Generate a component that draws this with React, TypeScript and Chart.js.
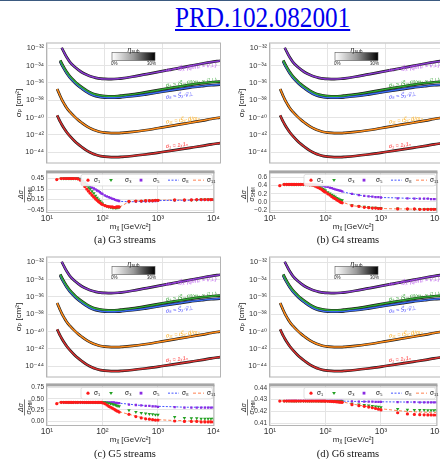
import React, { useEffect, useRef } from "react";
import { Chart, registerables } from "chart.js";

Chart.register(...registerables);

// ---------- main panel curves (log10 of sigma_p in cm^2) ----------
const CURVE_M = [15, 16, 17, 18, 20, 22, 25, 30, 35, 40, 50, 60, 70, 85, 100, 130, 170, 200, 300, 500, 700, 1000, 2000, 3000, 5000, 7000, 10000];
const SIG1_LOG = [-39.75, -40.15, -40.5, -40.8, -41.3, -41.7, -42.15, -42.7, -43.1, -43.4, -43.85, -44.12, -44.3, -44.45, -44.52, -44.57, -44.57, -44.54, -44.44, -44.27, -44.14, -43.98, -43.68, -43.5, -43.27, -43.1, -42.95];
const SIG11_LOG = [-36.7, -37.15, -37.55, -37.9, -38.45, -38.9, -39.35, -39.9, -40.3, -40.6, -41.05, -41.33, -41.5, -41.67, -41.74, -41.8, -41.8, -41.77, -41.66, -41.47, -41.32, -41.14, -40.8, -40.6, -40.35, -40.17, -40.0];
const SIG8_LOG = [null, null, -33.55, -33.9, -34.45, -34.9, -35.4, -35.95, -36.35, -36.65, -37.1, -37.38, -37.53, -37.65, -37.7, -37.72, -37.7, -37.66, -37.55, -37.35, -37.2, -37.03, -36.72, -36.55, -36.38, -36.28, -36.2];
const SIG3_LOG = [null, null, -33.4, -33.75, -34.3, -34.75, -35.25, -35.8, -36.2, -36.5, -36.93, -37.2, -37.35, -37.47, -37.52, -37.55, -37.52, -37.47, -37.33, -37.1, -36.93, -36.75, -36.42, -36.23, -36.03, -35.93, -35.85];
const SIG5_LOG = [null, null, null, -31.95, -32.55, -33.05, -33.6, -34.15, -34.5, -34.78, -35.1, -35.3, -35.42, -35.52, -35.55, -35.57, -35.53, -35.48, -35.3, -35.03, -34.85, -34.65, -34.27, -34.05, -33.77, -33.6, -33.45];

const MAIN_Y_TICK_EXP = [-32, -34, -36, -38, -40, -42, -44];
const X_TICKS = [10, 100, 1000, 10000];

// ---------- residual panels ----------
const RES_M = [15, 18, 20, 22, 24, 26, 28, 30, 33, 36, 40, 44, 48, 52, 56, 60, 65, 70, 75, 80, 85, 90, 95, 100, 110, 120, 130, 140, 150, 160, 170, 180, 190, 200, 300, 400, 500, 600, 700, 800, 900, 1000, 2000, 3000, 4000, 5000, 6000, 7000, 8000, 9000, 10000];

// (a) G3
const A_S1 = [0.42, 0.45, 0.45, 0.45, 0.45, 0.45, 0.45, 0.45, 0.45, 0.44,
  0.40, 0.31, 0.22, 0.15, 0.09, 0.03, -0.03, -0.08, -0.13, -0.17,
  -0.21, -0.24, -0.27, -0.29, -0.32, -0.34, -0.35, -0.36, -0.36, -0.37,
  -0.37, -0.36, -0.36, -0.36, -0.20, -0.19, -0.19, -0.18, -0.18, -0.18,
  -0.17, -0.17, -0.16, -0.16, -0.16, -0.15, -0.15, -0.15, -0.15, -0.15, -0.15];
const A_S3 = [null, 0.45, 0.45, 0.45, 0.45, 0.45, 0.45, 0.45, 0.45, 0.45,
  0.43, 0.38, 0.32, 0.26, 0.20, 0.15, 0.09, 0.03, -0.04, -0.10,
  -0.15, -0.19, -0.23, -0.26, -0.31, -0.34, -0.36, -0.37, -0.38, -0.38,
  -0.39, -0.38, -0.38, -0.37, -0.21, -0.19, -0.19, -0.18, -0.18, -0.18,
  -0.17, -0.17, -0.16, -0.16, -0.16, -0.16, -0.15, -0.15, -0.15, -0.15, -0.15];
const A_S5 = [null, null, 0.45, 0.45, 0.45, 0.45, 0.45, 0.45, 0.45, 0.45,
  0.44, 0.39, 0.34, 0.30, 0.26, 0.22, 0.19, 0.17, 0.14, 0.11,
  0.09, 0.06, 0.03, 0.01, -0.03, -0.06, -0.08, -0.10, -0.12, -0.14,
  -0.16, -0.17, -0.18, -0.19, -0.22, -0.21, -0.20, -0.20, -0.19, -0.19,
  -0.19, -0.18, -0.17, -0.17, -0.16, -0.16, -0.16, -0.16, -0.16, -0.16, -0.16];
const A_S8 = [null, 0.45, 0.45, 0.45, 0.45, 0.45, 0.45, 0.45, 0.45, 0.45,
  0.43, 0.38, 0.33, 0.28, 0.24, 0.20, 0.17, 0.14, 0.11, 0.08,
  0.06, 0.03, 0.01, -0.01, -0.05, -0.08, -0.10, -0.12, -0.14, -0.16,
  -0.17, -0.18, -0.19, -0.20, -0.21, -0.21, -0.20, -0.20, -0.19, -0.19,
  -0.19, -0.18, -0.17, -0.17, -0.17, -0.16, -0.16, -0.16, -0.16, -0.16, -0.16];
const A_S11 = [0.43, 0.45, 0.45, 0.45, 0.45, 0.45, 0.45, 0.45, 0.45, 0.45,
  0.42, 0.35, 0.27, 0.20, 0.14, 0.09, 0.03, -0.02, -0.08, -0.13,
  -0.18, -0.22, -0.25, -0.28, -0.32, -0.35, -0.36, -0.37, -0.38, -0.38,
  -0.38, -0.37, -0.37, -0.37, -0.21, -0.19, -0.19, -0.18, -0.18, -0.18,
  -0.17, -0.17, -0.16, -0.16, -0.16, -0.15, -0.15, -0.15, -0.15, -0.15, -0.15];
const A_TICKS = [0.45, 0.15, -0.15, -0.45];
const A_TICK_LABELS = ["0.45", "0.15", "\u22120.15", "\u22120.45"];

// (b) G4
const B_S1 = [0.40, 0.43, 0.43, 0.43, 0.43, 0.43, 0.43, 0.43, 0.43, 0.43,
  0.43, 0.43, 0.43, 0.42, 0.42, 0.41, 0.39, 0.37, 0.35, 0.33,
  0.31, 0.28, 0.26, 0.24, 0.20, 0.17, 0.13, 0.10, 0.08, 0.05,
  0.03, 0.01, -0.01, -0.02, -0.09, -0.11, -0.13, -0.14, -0.15, -0.15,
  -0.16, -0.16, -0.17, -0.17, -0.17, -0.18, -0.18, -0.18, -0.18, -0.18, -0.18];
const B_S3 = [null, 0.43, 0.43, 0.43, 0.43, 0.43, 0.43, 0.43, 0.43, 0.43,
  0.43, 0.43, 0.43, 0.43, 0.43, 0.42, 0.41, 0.39, 0.37, 0.36,
  0.34, 0.32, 0.30, 0.28, 0.24, 0.21, 0.18, 0.15, 0.13, 0.10,
  0.08, 0.06, 0.05, 0.04, -0.08, -0.10, -0.12, -0.13, -0.14, -0.14,
  -0.15, -0.15, -0.16, -0.17, -0.17, -0.17, -0.17, -0.17, -0.17, -0.17, -0.17];
const B_S5 = [null, null, 0.43, 0.43, 0.43, 0.43, 0.43, 0.43, 0.43, 0.43,
  0.43, 0.43, 0.43, 0.43, 0.43, 0.43, 0.43, 0.42, 0.42, 0.41,
  0.41, 0.40, 0.39, 0.38, 0.37, 0.35, 0.34, 0.32, 0.31, 0.30,
  0.29, 0.28, 0.27, 0.26, 0.20, 0.17, 0.15, 0.14, 0.13, 0.12,
  0.12, 0.11, 0.09, 0.09, 0.08, 0.08, 0.08, 0.08, 0.07, 0.07, 0.07];
const B_S8 = [null, 0.43, 0.43, 0.43, 0.43, 0.43, 0.43, 0.43, 0.43, 0.43,
  0.43, 0.43, 0.43, 0.43, 0.43, 0.43, 0.42, 0.42, 0.41, 0.41,
  0.40, 0.39, 0.38, 0.37, 0.36, 0.34, 0.33, 0.31, 0.30, 0.29,
  0.28, 0.27, 0.26, 0.25, 0.20, 0.17, 0.15, 0.14, 0.13, 0.12,
  0.12, 0.11, 0.10, 0.09, 0.09, 0.08, 0.08, 0.08, 0.08, 0.08, 0.08];
const B_S11 = [0.41, 0.43, 0.43, 0.43, 0.43, 0.43, 0.43, 0.43, 0.43, 0.43,
  0.43, 0.43, 0.43, 0.43, 0.42, 0.41, 0.40, 0.38, 0.36, 0.34,
  0.32, 0.30, 0.27, 0.25, 0.21, 0.18, 0.15, 0.12, 0.09, 0.07,
  0.05, 0.03, 0.01, 0.00, -0.09, -0.11, -0.13, -0.14, -0.15, -0.15,
  -0.16, -0.16, -0.17, -0.17, -0.18, -0.18, -0.18, -0.18, -0.18, -0.18, -0.18];
const B_TICKS = [0.6, 0.4, 0.2, 0.0, -0.2];
const B_TICK_LABELS = ["0.6", "0.4", "0.2", "0.0", "\u22120.2"];

// (c) G5
const C_S1 = [0.39, 0.42, 0.42, 0.42, 0.42, 0.42, 0.42, 0.42, 0.42, 0.42,
  0.42, 0.42, 0.42, 0.42, 0.42, 0.42, 0.42, 0.42, 0.42, 0.42,
  0.42, 0.42, 0.42, 0.41, 0.39, 0.36, 0.33, 0.31, 0.29, 0.27,
  0.25, 0.23, 0.22, 0.20, 0.15, 0.10, 0.07, 0.05, 0.04, 0.03,
  0.02, 0.02, 0.00, -0.01, -0.01, -0.01, -0.02, -0.02, -0.02, -0.02, -0.02];
const C_S3 = [null, 0.42, 0.42, 0.42, 0.42, 0.42, 0.42, 0.42, 0.42, 0.42,
  0.42, 0.42, 0.42, 0.42, 0.42, 0.42, 0.42, 0.42, 0.42, 0.42,
  0.42, 0.42, 0.42, 0.42, 0.42, 0.41, 0.40, 0.39, 0.38, 0.37,
  0.36, 0.35, 0.34, 0.33, 0.24, 0.20, 0.18, 0.17, 0.16, 0.15,
  0.14, 0.14, 0.09, 0.07, 0.06, 0.06, 0.05, 0.05, 0.05, 0.05, 0.05];
const C_S5 = [null, null, 0.42, 0.42, 0.42, 0.42, 0.42, 0.42, 0.42, 0.42,
  0.42, 0.42, 0.42, 0.42, 0.42, 0.42, 0.42, 0.42, 0.42, 0.42,
  0.42, 0.42, 0.42, 0.42, 0.42, 0.42, 0.42, 0.42, 0.42, 0.42,
  0.41, 0.41, 0.40, 0.40, 0.37, 0.36, 0.35, 0.34, 0.34, 0.33,
  0.33, 0.32, 0.31, 0.30, 0.30, 0.30, 0.30, 0.30, 0.30, 0.30, 0.30];
const C_S8 = [null, 0.42, 0.42, 0.42, 0.42, 0.42, 0.42, 0.42, 0.42, 0.42,
  0.42, 0.42, 0.42, 0.42, 0.42, 0.42, 0.42, 0.42, 0.42, 0.42,
  0.42, 0.42, 0.42, 0.42, 0.42, 0.42, 0.42, 0.42, 0.42, 0.42,
  0.41, 0.41, 0.40, 0.40, 0.38, 0.36, 0.35, 0.35, 0.34, 0.34,
  0.33, 0.33, 0.32, 0.31, 0.31, 0.31, 0.31, 0.31, 0.31, 0.31, 0.31];
const C_S11 = [0.40, 0.42, 0.42, 0.42, 0.42, 0.42, 0.42, 0.42, 0.42, 0.42,
  0.42, 0.42, 0.42, 0.42, 0.42, 0.42, 0.42, 0.42, 0.42, 0.42,
  0.42, 0.42, 0.42, 0.41, 0.40, 0.37, 0.35, 0.32, 0.30, 0.28,
  0.26, 0.24, 0.23, 0.21, 0.15, 0.11, 0.08, 0.06, 0.05, 0.04,
  0.03, 0.03, 0.01, 0.01, 0.00, 0.00, 0.00, 0.00, 0.00, 0.00, 0.00];
const C_TICKS = [0.75, 0.5, 0.25, 0.0];
const C_TICK_LABELS = ["0.75", "0.50", "0.25", "0.00"];

// (d) G6
const D_S1 = [0.4288, 0.4289, 0.4289, 0.4289, 0.4289, 0.4289, 0.4289, 0.4289, 0.4289, 0.4289,
  0.4289, 0.4289, 0.4289, 0.4289, 0.4289, 0.4289, 0.4289, 0.4289, 0.4289, 0.4289,
  0.4289, 0.4289, 0.4289, 0.4288, 0.4287, 0.4286, 0.4285, 0.4284, 0.4283, 0.4282,
  0.4281, 0.4280, 0.4279, 0.4278, 0.4258, 0.4250, 0.4244, 0.4238, 0.4232, 0.4226,
  0.4220, 0.4214, 0.4190, 0.4180, 0.4176, 0.4174, 0.4173, 0.4172, 0.4172, 0.4171, 0.4171];
const D_S3 = [null, 0.4289, 0.4289, 0.4289, 0.4289, 0.4289, 0.4289, 0.4289, 0.4289, 0.4289,
  0.4289, 0.4289, 0.4289, 0.4289, 0.4289, 0.4289, 0.4289, 0.4289, 0.4289, 0.4289,
  0.4289, 0.4289, 0.4289, 0.4289, 0.4288, 0.4288, 0.4287, 0.4287, 0.4286, 0.4286,
  0.4285, 0.4285, 0.4284, 0.4284, 0.4266, 0.4260, 0.4255, 0.4251, 0.4247, 0.4243,
  0.4240, 0.4237, 0.4222, 0.4216, 0.4214, 0.4213, 0.4213, 0.4212, 0.4212, 0.4212, 0.4212];
const D_S5 = [null, null, 0.4289, 0.4289, 0.4289, 0.4289, 0.4289, 0.4289, 0.4289, 0.4289,
  0.4289, 0.4289, 0.4289, 0.4289, 0.4289, 0.4289, 0.4289, 0.4289, 0.4289, 0.4289,
  0.4289, 0.4289, 0.4289, 0.4289, 0.4289, 0.4289, 0.4289, 0.4289, 0.4289, 0.4289,
  0.4289, 0.4289, 0.4289, 0.4289, 0.4285, 0.4284, 0.4284, 0.4283, 0.4283, 0.4282,
  0.4282, 0.4282, 0.4280, 0.4279, 0.4279, 0.4278, 0.4278, 0.4278, 0.4278, 0.4278, 0.4278];
const D_S8 = [null, 0.4289, 0.4289, 0.4289, 0.4289, 0.4289, 0.4289, 0.4289, 0.4289, 0.4289,
  0.4289, 0.4289, 0.4289, 0.4289, 0.4289, 0.4289, 0.4289, 0.4289, 0.4289, 0.4289,
  0.4289, 0.4289, 0.4289, 0.4289, 0.4289, 0.4289, 0.4289, 0.4289, 0.4289, 0.4289,
  0.4289, 0.4289, 0.4289, 0.4288, 0.4286, 0.4285, 0.4284, 0.4284, 0.4283, 0.4283,
  0.4282, 0.4282, 0.4281, 0.4280, 0.4280, 0.4279, 0.4279, 0.4279, 0.4279, 0.4279, 0.4279];
const D_S11 = [0.4289, 0.4289, 0.4289, 0.4289, 0.4289, 0.4289, 0.4289, 0.4289, 0.4289, 0.4289,
  0.4289, 0.4289, 0.4289, 0.4289, 0.4289, 0.4289, 0.4289, 0.4289, 0.4289, 0.4289,
  0.4289, 0.4289, 0.4289, 0.4289, 0.4288, 0.4288, 0.4287, 0.4287, 0.4286, 0.4285,
  0.4284, 0.4284, 0.4283, 0.4282, 0.4264, 0.4254, 0.4247, 0.4241, 0.4236, 0.4231,
  0.4227, 0.4224, 0.4208, 0.4201, 0.4198, 0.4196, 0.4195, 0.4194, 0.4194, 0.4193, 0.4193];
const D_TICKS = [0.44, 0.43, 0.42, 0.41];
const D_TICK_LABELS = ["0.44", "0.43", "0.42", "0.41"];

// ---------- styling ----------
const FONT = "'Liberation Sans', 'DejaVu Sans', sans-serif";
const GRID = "#e4e4e4";
const FRAME = "#b4b4b4";
const COL = { s1: "#ff1a1a", s3: "#22a022", s5: "#8a2be2", s8: "#4455ff", s11: "#ff8050" };

const SUP: Record<string, string> = { "0": "\u2070", "1": "\u00b9", "2": "\u00b2", "3": "\u00b3", "4": "\u2074", "5": "\u2075", "6": "\u2076", "7": "\u2077", "8": "\u2078", "9": "\u2079", "-": "\u207b" };
const sup = (n: number) => String(n).split("").map((c) => SUP[c] ?? c).join("");

function pts(xs: number[], ys: (number | null)[], f: (v: number) => number = (v) => v) {
  const out: { x: number; y: number }[] = [];
  for (let i = 0; i < xs.length; i++) {
    const y = ys[i];
    if (y !== null && y !== undefined) out.push({ x: xs[i], y: f(y) });
  }
  return out;
}

const framePlugin = {
  id: "frame",
  afterDatasetsDraw(chart: any) {
    const { ctx, chartArea: a } = chart;
    ctx.save();
    ctx.strokeStyle = FRAME;
    ctx.lineWidth = 1;
    ctx.strokeRect(a.left - 0.5, a.top - 0.5, a.right - a.left + 1, a.bottom - a.top + 1);
    ctx.restore();
  },
};

const CURVE_LABELS = [
  { m: 1150, e: -34.55, color: "#b44ee8", text: "\u03c3\u2085 = iS\u20d7\u1d6a\u00b7(q\u20d7/m\u2099 \u00d7 v\u20d7\u22a5)" },
  { m: 1150, e: -36.3, color: "#2ca02c", text: "\u03c3\u2083 = iS\u20d7\u2099\u00b7(q\u20d7/m\u2099 \u00d7 v\u20d7\u22a5)" },
  { m: 1150, e: -37.65, color: "#4a4aff", text: "\u03c3\u2088 = S\u20d7\u1d6a\u00b7v\u20d7\u22a5" },
  { m: 1150, e: -40.5, color: "#ffb020", text: "\u03c3\u2081\u2081 = iS\u20d7\u1d6a\u00b7q\u20d7/m\u2099" },
  { m: 1150, e: -43.35, color: "#ff2a2a", text: "\u03c3\u2081 = 1\u1d6a1\u2099" },
];

const mainDecor = {
  id: "mainDecor",
  afterDraw(chart: any) {
    const { ctx, chartArea: a, scales } = chart;
    ctx.save();
    // colour bar for eta_sub
    const x0 = a.left + 65, y0 = a.top + 9, w = 43, h = 8;
    const g = ctx.createLinearGradient(x0, 0, x0 + w, 0);
    g.addColorStop(0, "#ffffff");
    g.addColorStop(0.5, "#9a9a9a");
    g.addColorStop(1, "#000000");
    ctx.fillStyle = g;
    ctx.fillRect(x0, y0, w, h);
    ctx.strokeStyle = "#555";
    ctx.lineWidth = 0.6;
    ctx.strokeRect(x0, y0, w, h);
    ctx.fillStyle = "#222";
    ctx.textBaseline = "middle";
    ctx.font = `italic 7px ${FONT}`;
    const etaW = ctx.measureText("\u03b7").width;
    ctx.font = `5px ${FONT}`;
    const subW = ctx.measureText("sub").width;
    const sx = x0 + w / 2 - (etaW + subW) / 2;
    ctx.font = `italic 7px ${FONT}`;
    ctx.fillText("\u03b7", sx, y0 - 2);
    ctx.font = `5px ${FONT}`;
    ctx.fillText("sub", sx + etaW, y0 - 0.5);
    ctx.font = `4.5px ${FONT}`;
    ctx.textAlign = "left";
    ctx.fillText("0%", x0 - 1, y0 + h + 3.5);
    ctx.textAlign = "right";
    ctx.fillText("30%", x0 + w + 1, y0 + h + 3.5);
    // curve labels
    ctx.textAlign = "left";
    ctx.font = `italic 5.6px ${FONT}`;
    for (const l of CURVE_LABELS) {
      const px = scales.x.getPixelForValue(l.m);
      const py = scales.y.getPixelForValue(Math.pow(10, l.e));
      ctx.save();
      ctx.translate(px, py);
      ctx.rotate((-6 * Math.PI) / 180);
      ctx.fillStyle = l.color;
      ctx.fillText(l.text, 0, 0);
      ctx.restore();
    }
    ctx.restore();
  },
};

function drawMarker(ctx: CanvasRenderingContext2D, kind: string, x: number, y: number, color: string) {
  ctx.fillStyle = color;
  ctx.beginPath();
  if (kind === "circle") {
    ctx.arc(x, y, 1.6, 0, Math.PI * 2);
  } else if (kind === "tri") {
    ctx.moveTo(x - 1.9, y - 1.2);
    ctx.lineTo(x + 1.9, y - 1.2);
    ctx.lineTo(x, y + 1.9);
    ctx.closePath();
  } else {
    ctx.rect(x - 1.4, y - 1.4, 2.8, 2.8);
  }
  ctx.fill();
}

const resDecor = {
  id: "resDecor",
  afterDraw(chart: any) {
    const { ctx, chartArea: a } = chart;
    ctx.save();
    // band between the two panels
    ctx.fillStyle = "#a6a6a6";
    ctx.fillRect(a.left - 1, a.top - 2.5, a.right - a.left + 2, 3);
    // legend inside the axes
    const L = a.left, T = a.top;
    const bx = L + 34, by = T + 1.5, bw = a.right - bx - 1, bh = 11.5;
    ctx.fillStyle = "rgba(255,255,255,0.88)";
    ctx.strokeStyle = "#d4d4d4";
    ctx.lineWidth = 0.7;
    ctx.beginPath();
    (ctx as any).roundRect(bx, by, bw, bh, 2);
    ctx.fill();
    ctx.stroke();
    const cy = by + bh / 2;
    const ds = chart.data.datasets;
    ctx.font = `6.5px ${FONT}`;
    ctx.textBaseline = "middle";
    ctx.textAlign = "left";
    drawMarker(ctx, "circle", L + 41, cy, ds[0].borderColor);
    drawMarker(ctx, "tri", L + 64, cy, ds[1].borderColor);
    drawMarker(ctx, "rect", L + 94, cy, ds[2].borderColor);
    ctx.lineWidth = 1;
    ctx.strokeStyle = ds[3].borderColor;
    ctx.setLineDash([2, 1.5]);
    ctx.beginPath();
    ctx.moveTo(L + 121, cy);
    ctx.lineTo(L + 132, cy);
    ctx.stroke();
    ctx.strokeStyle = ds[4].borderColor;
    ctx.setLineDash([3, 2]);
    ctx.beginPath();
    ctx.moveTo(L + 146, cy);
    ctx.lineTo(L + 157, cy);
    ctx.stroke();
    ctx.setLineDash([]);
    ctx.fillStyle = "#222";
    ctx.fillText(ds[0].label, L + 47, cy);
    ctx.fillText(ds[1].label, L + 78, cy);
    ctx.fillText(ds[2].label, L + 106, cy);
    ctx.fillText(ds[3].label, L + 135, cy);
    ctx.fillText(ds[4].label, L + 160, cy);
    // y-axis title as a fraction
    ctx.translate(24.5, (a.top + a.bottom) / 2 + 2);
    ctx.rotate(-Math.PI / 2);
    ctx.fillStyle = "#222";
    ctx.textAlign = "center";
    ctx.textBaseline = "alphabetic";
    ctx.font = `italic 7px ${FONT}`;
    ctx.fillText("\u0394\u03c3", 0, -1.3);
    ctx.fillRect(-8, -0.3, 16, 0.6);
    ctx.font = `italic 7px ${FONT}`;
    const w1 = ctx.measureText("\u03c3").width;
    ctx.font = `4.5px ${FONT}`;
    const w2 = ctx.measureText("SHM").width;
    const sx = -(w1 + w2) / 2;
    ctx.textAlign = "left";
    ctx.textBaseline = "top";
    ctx.font = `italic 7px ${FONT}`;
    ctx.fillText("\u03c3", sx, 0.8);
    ctx.font = `4.5px ${FONT}`;
    ctx.fillText("SHM", sx + w1, 3.6);
    ctx.restore();
  },
};

function MainChart({ left, top }: { left: number; top: number }) {
  const ref = useRef<HTMLCanvasElement>(null);
  useEffect(() => {
    if (!ref.current) return;
    const curves = [
      { ys: SIG5_LOG, color: "#8a3ad0" },
      { ys: SIG3_LOG, color: "#2ea82e" },
      { ys: SIG8_LOG, color: "#3a6af0" },
      { ys: SIG11_LOG, color: "#ff8c1a" },
      { ys: SIG1_LOG, color: "#d83030" },
    ];
    const datasets: any[] = [];
    curves.forEach((c) => {
      const data = pts(CURVE_M, c.ys, (v) => Math.pow(10, v));
      datasets.push({ data, borderColor: "#1a1a1a", borderWidth: 2.7, pointRadius: 0, order: 2, cubicInterpolationMode: "monotone" });
      datasets.push({ data, borderColor: c.color, borderWidth: 1.5, pointRadius: 0, order: 1, cubicInterpolationMode: "monotone" });
    });
    const chart = new Chart(ref.current, {
      type: "line",
      data: { datasets },
      options: {
        animation: false,
        responsive: false,
        maintainAspectRatio: false,
        events: [],
        layout: { padding: { left: 0, right: 2, top: 5, bottom: 2 } },
        plugins: { legend: { display: false }, tooltip: { enabled: false } },
        scales: {
          x: {
            type: "logarithmic",
            min: 10,
            max: 10000,
            afterBuildTicks: (s: any) => { s.ticks = X_TICKS.map((v) => ({ value: v })); },
            ticks: { display: false },
            grid: { color: GRID, drawTicks: false },
            border: { display: false },
            afterFit: (s: any) => { s.height = 0; },
          },
          y: {
            type: "logarithmic",
            min: Math.pow(10, -45.19),
            max: Math.pow(10, -31.46),
            afterBuildTicks: (s: any) => { s.ticks = MAIN_Y_TICK_EXP.map((e) => ({ value: Math.pow(10, e) })); },
            ticks: {
              autoSkip: false,
              callback: (v: any) => "10" + sup(Math.round(Math.log10(Number(v)))),
              font: { size: 7.5, family: FONT },
              color: "#333",
              padding: 3,
            },
            grid: { color: GRID, drawTicks: false },
            border: { display: false },
            title: { display: true, text: "\u03c3\u209a [cm\u00b2]", font: { size: 8, family: FONT }, color: "#222", padding: { top: 14, bottom: 0 } },
            afterFit: (s: any) => { s.width = 47; },
          },
        },
      } as any,
      plugins: [framePlugin, mainDecor],
    });
    return () => chart.destroy();
  }, []);
  return <canvas ref={ref} width={222} height={134} style={{ position: "absolute", left, top, width: 222, height: 134 }} />;
}

function ResChart({ left, top, series, yMin, yMax, ticks, tickLabels }: any) {
  const ref = useRef<HTMLCanvasElement>(null);
  useEffect(() => {
    if (!ref.current) return;
    const datasets: any[] = [
      { label: "\u03c3\u2081", data: pts(RES_M, series[0]), showLine: false, pointStyle: "circle", pointRadius: 1.6, backgroundColor: COL.s1, borderColor: COL.s1, pointBorderWidth: 0, order: 1 },
      { label: "\u03c3\u2083", data: pts(RES_M, series[1]), showLine: false, pointStyle: "triangle", pointRotation: 180, pointRadius: 2, backgroundColor: COL.s3, borderColor: COL.s3, pointBorderWidth: 0, order: 1 },
      { label: "\u03c3\u2085", data: pts(RES_M, series[2]), showLine: false, pointStyle: "rect", pointRadius: 1.6, backgroundColor: COL.s5, borderColor: COL.s5, pointBorderWidth: 0, order: 1 },
      { label: "\u03c3\u2088", data: pts(RES_M, series[3]), borderColor: COL.s8, borderWidth: 1, borderDash: [2, 1.5], pointRadius: 0, order: 2 },
      { label: "\u03c3\u2081\u2081", data: pts(RES_M, series[4]), borderColor: COL.s11, borderWidth: 1, borderDash: [3, 2], pointRadius: 0, order: 2 },
    ];
    const chart = new Chart(ref.current, {
      type: "line",
      data: { datasets },
      options: {
        animation: false,
        responsive: false,
        maintainAspectRatio: false,
        events: [],
        layout: { padding: { left: 0, right: 2, top: 4, bottom: 0 } },
        plugins: { legend: { display: false }, tooltip: { enabled: false } },
        scales: {
          x: {
            type: "logarithmic",
            min: 10,
            max: 10000,
            afterBuildTicks: (s: any) => { s.ticks = X_TICKS.map((v) => ({ value: v })); },
            ticks: {
              autoSkip: false,
              maxRotation: 0,
              callback: (v: any) => "10" + sup(Math.round(Math.log10(Number(v)))),
              font: { size: 8.5, family: FONT },
              color: "#333",
              padding: 2,
            },
            grid: { color: GRID, drawTicks: false },
            border: { display: false },
            title: { display: true, text: "m\u1d6a [GeV/c\u00b2]", font: { size: 8, family: FONT }, color: "#222", padding: { top: 0, bottom: 2 } },
            afterFit: (s: any) => { s.height = 22; },
          },
          y: {
            type: "linear",
            min: yMin,
            max: yMax,
            afterBuildTicks: (s: any) => { s.ticks = ticks.map((v: number) => ({ value: v })); },
            ticks: {
              autoSkip: false,
              callback: (_v: any, i: number) => tickLabels[i],
              font: { size: 6.5, family: FONT },
              color: "#333",
              padding: 3,
            },
            grid: { color: GRID, drawTicks: false },
            border: { display: false },
            afterFit: (s: any) => { s.width = 47; },
          },
        },
      } as any,
      plugins: [framePlugin, resDecor],
    });
    return () => chart.destroy();
  }, []);
  return <canvas ref={ref} width={222} height={68} style={{ position: "absolute", left, top, width: 222, height: 68 }} />;
}

const PANELS = [
  { key: "a", dx: 0, mainDy: 0, resDy: 0, caption: "(a) G3 streams", series: [A_S1, A_S3, A_S5, A_S8, A_S11], yMin: -0.503, yMax: 0.609, ticks: A_TICKS, tickLabels: A_TICK_LABELS },
  { key: "b", dx: 223, mainDy: 0, resDy: 0, caption: "(b) G4 streams", series: [B_S1, B_S3, B_S5, B_S8, B_S11], yMin: -0.246, yMax: 0.714, ticks: B_TICKS, tickLabels: B_TICK_LABELS },
  { key: "c", dx: 0, mainDy: 214, resDy: 213, caption: "(c) G5 streams", series: [C_S1, C_S3, C_S5, C_S8, C_S11], yMin: -0.09, yMax: 0.79, ticks: C_TICKS, tickLabels: C_TICK_LABELS },
  { key: "d", dx: 223, mainDy: 214, resDy: 213, caption: "(d) G6 streams", series: [D_S1, D_S3, D_S5, D_S8, D_S11], yMin: 0.4087, yMax: 0.4416, ticks: D_TICKS, tickLabels: D_TICK_LABELS },
];

export default function App() {
  return (
    <div style={{ position: "absolute", left: 0, top: 0, width: 440, height: 459, overflow: "hidden", background: "#fff" }}>
      <div style={{ position: "absolute", left: 0, top: 0, width: 440, height: 1, background: "#3b5a80" }} />
      <a
        href="#"
        style={{
          position: "absolute",
          left: 175,
          top: 3,
          fontFamily: "'Liberation Serif', 'Times New Roman', serif",
          fontSize: 29,
          lineHeight: "29px",
          color: "#0000ee",
          textDecoration: "underline",
          transform: "scaleX(0.87)",
          transformOrigin: "left top",
          whiteSpace: "nowrap",
        }}
      >
        PRD.102.082001
      </a>
      {PANELS.map((p) => (
        <React.Fragment key={p.key}>
          <MainChart left={p.dx} top={p.mainDy + 36} />
          <ResChart left={p.dx} top={p.resDy + 166} series={p.series} yMin={p.yMin} yMax={p.yMax} ticks={p.ticks} tickLabels={p.tickLabels} />
          <div
            style={{
              position: "absolute",
              left: p.dx + 65,
              width: 120,
              top: p.mainDy + 234,
              textAlign: "center",
              fontFamily: "'Liberation Serif', 'Times New Roman', serif",
              fontSize: 10.5,
              lineHeight: "12px",
              color: "#111",
              whiteSpace: "nowrap",
            }}
          >
            {p.caption}
          </div>
        </React.Fragment>
      ))}
    </div>
  );
}
